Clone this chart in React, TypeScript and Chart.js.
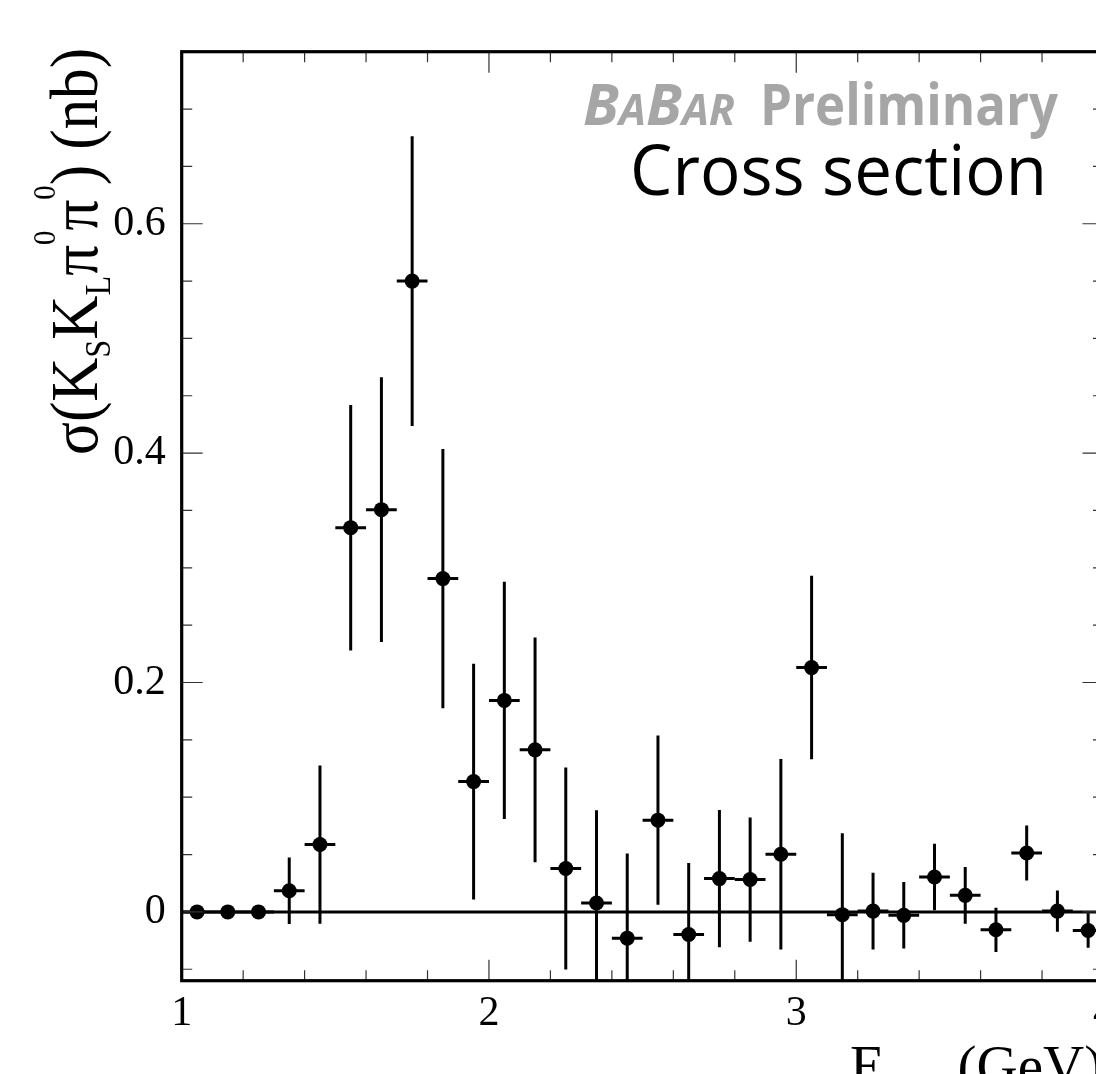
import React, { useEffect, useRef } from "react";
import { Chart, registerables } from "chart.js";

Chart.register(...registerables);

// ---- data ----
const X_CENTERS = [
  1.05, 1.15, 1.25, 1.35, 1.45, 1.55, 1.65, 1.75, 1.85, 1.95,
  2.05, 2.15, 2.25, 2.35, 2.45, 2.55, 2.65, 2.75, 2.85, 2.95,
  3.05, 3.15, 3.25, 3.35, 3.45, 3.55, 3.65, 3.75, 3.85, 3.95,
];
const Y_VALUES = [
  0, 0, 0, 0.0184, 0.0587, 0.335, 0.3507, 0.55, 0.2906, 0.1136,
  0.1844, 0.1413, 0.0378, 0.0077, -0.0229, 0.08, -0.0197, 0.029, 0.0282, 0.0503,
  0.213, -0.0024, 0.0007, -0.003, 0.0304, 0.0144, -0.0156, 0.0514, 0.0007, -0.0162,
];
const Y_ERRORS = [
  0, 0, 0, 0.029, 0.069, 0.107, 0.1154, 0.1263, 0.113, 0.1027,
  0.1035, 0.098, 0.088, 0.081, 0.0738, 0.0737, 0.0624, 0.0598, 0.0542, 0.083,
  0.08, 0.0709, 0.0335, 0.029, 0.029, 0.0248, 0.0193, 0.024, 0.018, 0.015,
];
const X_HALF_WIDTH = 0.05;

const X_TICKS = [1, 2, 3, 4];
const X_TICK_LABELS = ["1", "2", "3", "4"];
const Y_TICKS = [0, 0.2, 0.4, 0.6];
const Y_TICK_LABELS = ["0", "0.2", "0.4", "0.6"];
const X_MIN = 1;
const X_MAX = 4;
const Y_MIN = -0.06;
const Y_MAX = 0.75;
const X_MINOR_STEP = 0.2;
const Y_MINOR_STEP = 0.05;

const TITLE = "Cross section";
const BABAR_PARTS = [
  { t: "B", big: true },
  { t: "A", big: false },
  { t: "B", big: true },
  { t: "AR", big: false },
];
const PRELIM = "Preliminary";
const Y_TITLE_PARTS = [
  { t: "σ(K", k: "m" },
  { t: "S", k: "sub" },
  { t: "K", k: "m" },
  { t: "L", k: "sub" },
  { t: "π", k: "m" },
  { t: "0", k: "sup" },
  { t: "π", k: "m" },
  { t: "0", k: "sup" },
  { t: ") (nb)", k: "m" },
];
const X_TITLE_PARTS = [
  { t: "E", k: "m" },
  { t: "c.m.", k: "sub" },
  { t: " (GeV)", k: "m" },
];

// ---- layout ----
const CANVAS_W = 1130;
const CANVAS_H = 1074;
const AREA_LEFT = 181.7;
const AREA_RIGHT = 1103.5;
const AREA_TOP = 51.7;
const AREA_BOTTOM = 980.7;
const SERIF = '"Liberation Serif", "Times New Roman", serif';
const SANS = '"Open Sans", "Noto Sans", sans-serif';

type Part = { t: string; k: string };

function drawRich(
  ctx: CanvasRenderingContext2D,
  parts: Part[],
  sizes: Record<string, number>,
  offsets: Record<string, number>,
  x0: number,
  baseline: number
) {
  let x = x0;
  for (const p of parts) {
    ctx.font = `${sizes[p.k]}px ${SERIF}`;
    ctx.fillText(p.t, x, baseline + offsets[p.k]);
    x += ctx.measureText(p.t).width;
  }
  return x - x0;
}

function richWidth(ctx: CanvasRenderingContext2D, parts: Part[], sizes: Record<string, number>) {
  let w = 0;
  for (const p of parts) {
    ctx.font = `${sizes[p.k]}px ${SERIF}`;
    w += ctx.measureText(p.t).width;
  }
  return w;
}

const decorPlugin = {
  id: "decor",
  beforeDatasetsDraw(chart: any) {
    const { ctx, chartArea: a, scales } = chart;
    const x = scales.x;
    const y = scales.y;
    ctx.save();
    ctx.beginPath();
    ctx.rect(a.left, a.top, a.right - a.left, a.bottom - a.top);
    ctx.clip();
    ctx.strokeStyle = "#000";
    ctx.lineWidth = 3;
    ctx.lineCap = "butt";
    const y0 = y.getPixelForValue(0);
    ctx.beginPath();
    ctx.moveTo(a.left, y0);
    ctx.lineTo(a.right, y0);
    ctx.stroke();
    X_CENTERS.forEach((xc, i) => {
      const v = Y_VALUES[i];
      const e = Y_ERRORS[i];
      const px = x.getPixelForValue(xc);
      const py = y.getPixelForValue(v);
      ctx.beginPath();
      ctx.moveTo(x.getPixelForValue(xc - X_HALF_WIDTH), py);
      ctx.lineTo(x.getPixelForValue(xc + X_HALF_WIDTH), py);
      if (e > 0) {
        ctx.moveTo(px, y.getPixelForValue(v + e));
        ctx.lineTo(px, y.getPixelForValue(v - e));
      }
      ctx.stroke();
    });
    ctx.restore();
  },
  afterDraw(chart: any) {
    const { ctx, chartArea: a, scales } = chart;
    const x = scales.x;
    const y = scales.y;
    ctx.save();
    // ticks
    ctx.strokeStyle = "#333";
    ctx.lineWidth = 1.2;
    ctx.beginPath();
    const nx = Math.round((X_MAX - X_MIN) / X_MINOR_STEP);
    for (let i = 0; i <= nx; i++) {
      const v = X_MIN + i * X_MINOR_STEP;
      const major = X_TICKS.some((t) => Math.abs(t - v) < 1e-6);
      const len = major ? 21 : 10.5;
      const px = x.getPixelForValue(v);
      ctx.moveTo(px, a.bottom);
      ctx.lineTo(px, a.bottom - len);
      ctx.moveTo(px, a.top);
      ctx.lineTo(px, a.top + len);
    }
    const yStart = Math.ceil(Y_MIN / Y_MINOR_STEP - 1e-6);
    const yEnd = Math.floor(Y_MAX / Y_MINOR_STEP + 1e-6);
    for (let i = yStart; i <= yEnd; i++) {
      const v = i * Y_MINOR_STEP;
      const major = Y_TICKS.some((t) => Math.abs(t - v) < 1e-6);
      const len = major ? 21 : 10.5;
      const py = y.getPixelForValue(v);
      ctx.moveTo(a.left, py);
      ctx.lineTo(a.left + len, py);
      ctx.moveTo(a.right, py);
      ctx.lineTo(a.right - len, py);
    }
    ctx.stroke();
    // frame
    ctx.strokeStyle = "#000";
    ctx.lineWidth = 3.2;
    ctx.strokeRect(a.left, a.top, a.right - a.left, a.bottom - a.top);

    ctx.textBaseline = "alphabetic";
    ctx.textAlign = "left";

    // BABAR Preliminary (gray)
    ctx.fillStyle = "#a6a6a6";
    const fb = 58;
    const fsm = fb * 0.74;
    ctx.font = `bold ${fb}px ${SANS}`;
    const wPreNat = ctx.measureText(PRELIM).width;
    const sPre = 298 / wPreNat;
    ctx.save();
    ctx.translate(1058 - 298, 125);
    ctx.scale(sPre, 1);
    ctx.fillText(PRELIM, 0, 0);
    ctx.restore();
    let wBab = 0;
    for (const p of BABAR_PARTS) {
      ctx.font = `italic bold ${p.big ? fb : fsm}px ${SANS}`;
      wBab += ctx.measureText(p.t).width;
    }
    const sBab = 152 / wBab;
    ctx.save();
    ctx.translate(583, 125);
    ctx.scale(sBab, 1);
    let bx = 0;
    for (const p of BABAR_PARTS) {
      ctx.font = `italic bold ${p.big ? fb : fsm}px ${SANS}`;
      ctx.fillText(p.t, bx, 0);
      bx += ctx.measureText(p.t).width;
    }
    ctx.restore();

    // Cross section
    ctx.fillStyle = "#000";
    const fc = 69;
    ctx.font = `${fc}px ${SANS}`;
    const wc = ctx.measureText(TITLE).width;
    ctx.save();
    ctx.translate(1047 - 417, 195);
    ctx.scale(417 / wc, 1);
    ctx.fillText(TITLE, 0, 0);
    ctx.restore();

    // Y title (rotated, fitted to the span of the axis title)
    const ySizes = { m: 68, sub: 36, sup: 32 };
    const yOffs = { m: 0, sub: 13, sup: -42 };
    const wy = richWidth(ctx, Y_TITLE_PARTS, ySizes);
    const yLen = 407;
    ctx.save();
    ctx.translate(97, 48 + yLen);
    ctx.rotate(-Math.PI / 2);
    ctx.scale(yLen / wy, 1);
    drawRich(ctx, Y_TITLE_PARTS, ySizes, yOffs, 0, 0);
    ctx.restore();

    // X title
    const xSizes = { m: 57, sub: 34, sup: 30 };
    const xOffs = { m: 0, sub: 12, sup: -36 };
    drawRich(ctx, X_TITLE_PARTS, xSizes, xOffs, 850, 1085);

    ctx.restore();
  },
};

export default function App() {
  const ref = useRef<HTMLCanvasElement>(null);
  useEffect(() => {
    const canvas = ref.current;
    if (!canvas) return;
    const chart = new Chart(canvas, {
      type: "scatter",
      data: {
        datasets: [
          {
            data: X_CENTERS.map((xv, i) => ({ x: xv, y: Y_VALUES[i] })),
            backgroundColor: "#000",
            borderColor: "#000",
            borderWidth: 0,
            pointRadius: 7.5,
            pointHoverRadius: 7.5,
          },
        ],
      },
      options: {
        animation: false,
        responsive: false,
        devicePixelRatio: 1,
        events: [],
        layout: {
          padding: { left: 0, top: AREA_TOP, right: CANVAS_W - AREA_RIGHT, bottom: 0 },
        },
        plugins: { legend: { display: false }, tooltip: { enabled: false } },
        scales: {
          x: {
            type: "linear",
            min: X_MIN,
            max: X_MAX,
            grid: { display: false },
            border: { display: false },
            afterBuildTicks: (s: any) => {
              s.ticks = X_TICKS.map((v) => ({ value: v }));
            },
            afterFit: (s: any) => {
              s.height = CANVAS_H - AREA_BOTTOM;
            },
            ticks: {
              font: { family: SERIF, size: 42 },
              color: "#000",
              padding: 0,
              maxRotation: 0,
              autoSkip: false,
              callback: (_v: any, i: number) => X_TICK_LABELS[i],
            },
          },
          y: {
            type: "linear",
            min: Y_MIN,
            max: Y_MAX,
            grid: { display: false },
            border: { display: false },
            afterBuildTicks: (s: any) => {
              s.ticks = Y_TICKS.map((v) => ({ value: v }));
            },
            afterFit: (s: any) => {
              s.width = AREA_LEFT;
            },
            ticks: {
              font: { family: SERIF, size: 42 },
              color: "#000",
              padding: 8,
              autoSkip: false,
              callback: (_v: any, i: number) => Y_TICK_LABELS[i],
            },
          },
        },
      },
      plugins: [decorPlugin],
    } as any);
    return () => chart.destroy();
  }, []);
  return (
    <div
      style={{
        position: "absolute",
        left: 0,
        top: 0,
        width: 1096,
        height: 1074,
        overflow: "hidden",
        background: "#fff",
      }}
    >
      <canvas ref={ref} width={CANVAS_W} height={CANVAS_H} style={{ display: "block" }} />
    </div>
  );
}
